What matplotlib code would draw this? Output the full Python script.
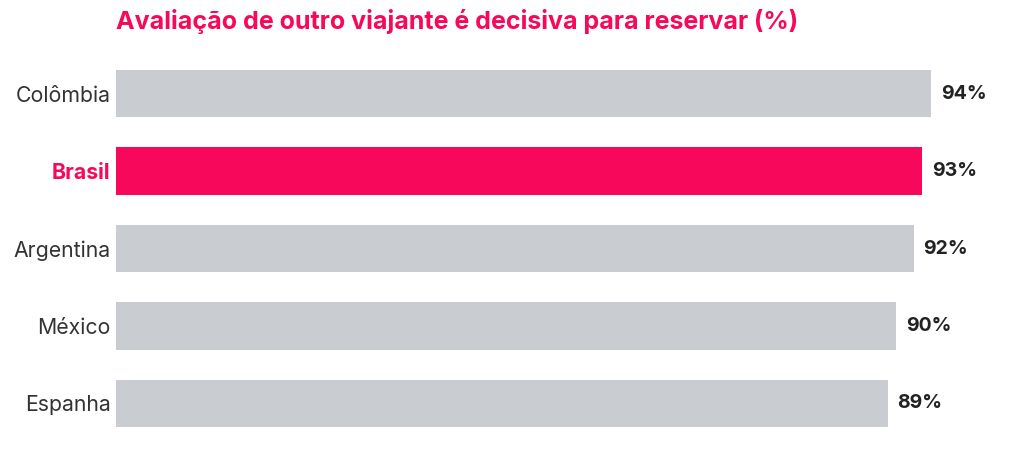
import matplotlib
matplotlib.use("Agg")
import matplotlib.pyplot as plt

countries = ["Colômbia", "Brasil", "Argentina", "México", "Espanha"]
values = [94, 93, 92, 90, 89]
highlight = "Brasil"

title = "Avaliação de outro viajante é decisiva para reservar (%)"

pink = "#F7085A"
gray = "#C9CCD1"

plt.rcParams["font.family"] = ["Inter", "DejaVu Sans"]

fig = plt.figure(figsize=(10.24, 4.57), dpi=100)
ax = fig.add_axes([116 / 1024, 15 / 457, 908 / 1024, 387 / 457])

positions = list(range(len(countries)))
colors = [pink if c == highlight else gray for c in countries]
ax.barh(positions, values, height=0.61, color=colors)

ax.set_xlim(0, 908 / 8.67)
ax.set_ylim(len(countries) - 0.5, -0.5)

for pos, val in zip(positions, values):
    ax.text(val + 1.15, pos, f"{val}%", va="center", ha="left",
            fontsize=14, fontweight="bold", color="#222222")

ax.set_yticks(positions)
ax.set_yticklabels(countries, fontsize=15.3, color="#333333")
for lbl, name in zip(ax.get_yticklabels(), countries):
    if name == highlight:
        lbl.set_color(pink)
        lbl.set_fontweight("bold")
ax.tick_params(axis="y", length=0, pad=4)
ax.set_xticks([])
for s in ax.spines.values():
    s.set_visible(False)

fig.text(116 / 1024, 1 - 22 / 457, title, ha="left", va="center",
         fontsize=18, fontweight="bold", color=pink)

fig.savefig("out.png", dpi=100)
